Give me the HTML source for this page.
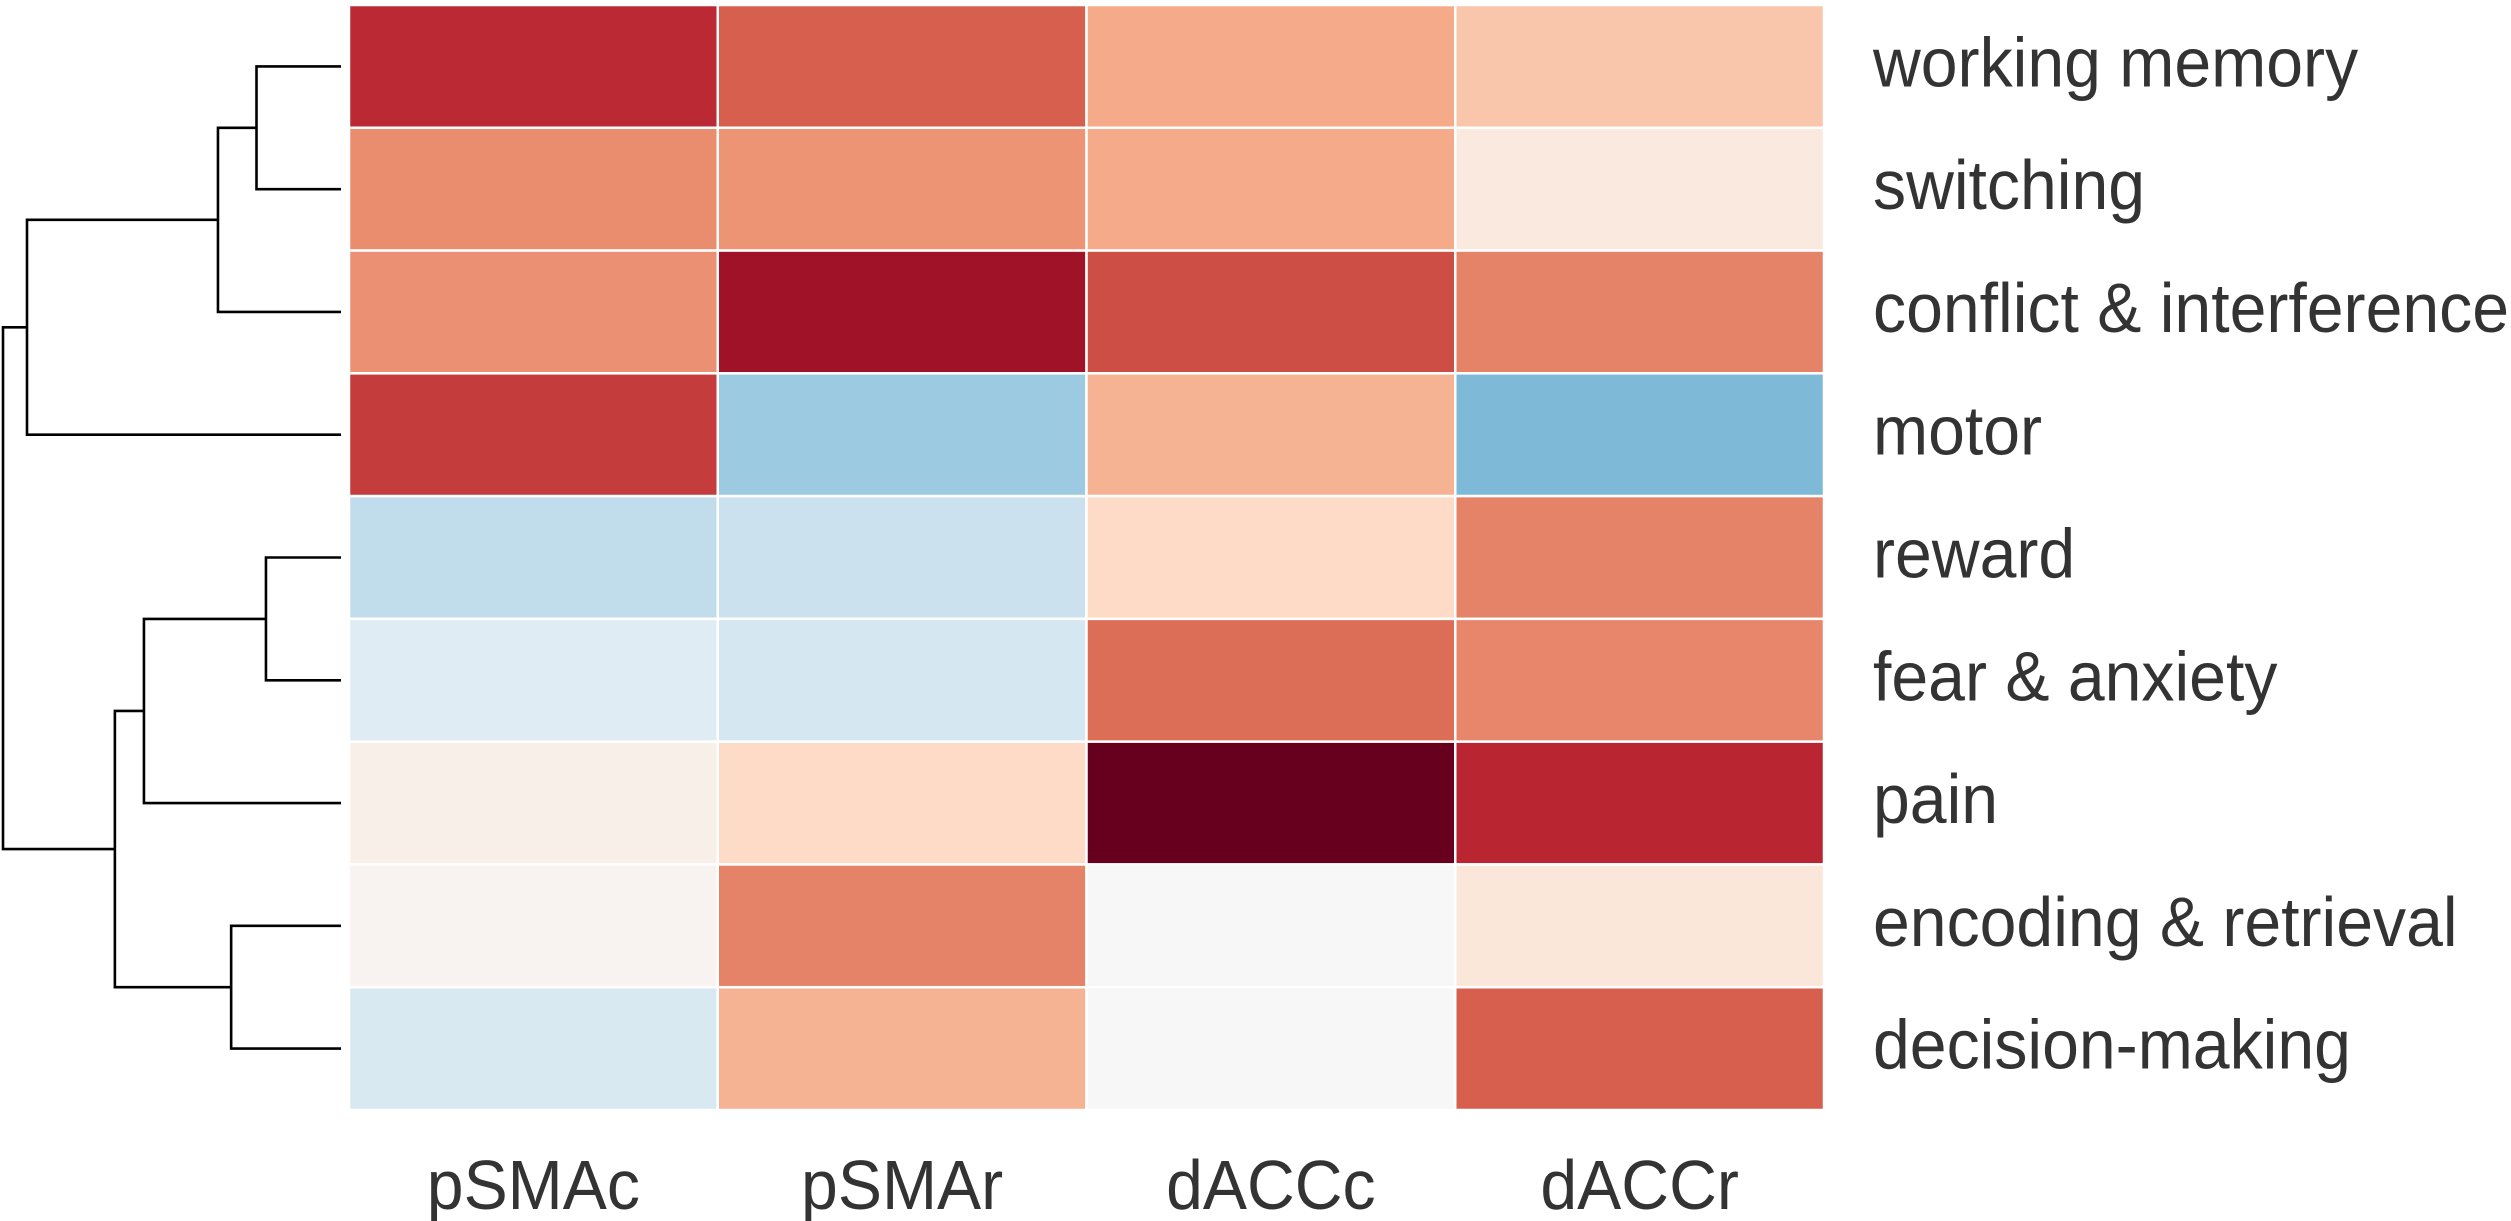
<!DOCTYPE html>
<html><head><meta charset="utf-8"><style>
html,body{margin:0;padding:0;background:#fff;}
svg{display:block;}
text{font-family:"Liberation Sans",sans-serif;fill:#333;}
</style></head><body>
<svg id="chart" width="2511" height="1221" viewBox="0 0 2511 1221" xmlns="http://www.w3.org/2000/svg">
<g id="dendro"></g>
<g id="cells"></g>
<g id="rowlabels"></g>
<g id="collabels"></g>
</svg>
<script>
const columns = ["pSMAc","pSMAr","dACCc","dACCr"];
const rows = ["working memory","switching","conflict & interference","motor","reward","fear & anxiety","pain","encoding & retrieval","decision-making"];
const values = [
 [0.75,0.6,0.38,0.28],
 [0.47,0.45,0.38,0.1],
 [0.46,0.85,0.65,0.5],
 [0.7,-0.37,0.35,-0.45],
 [-0.25,-0.22,0.2,0.5],
 [-0.12,-0.18,0.56,0.49],
 [0.06,0.2,1.0,0.76],
 [0.03,0.5,0.0,0.12],
 [-0.16,0.35,0.0,0.6]
];
// dendrogram merges: [childA, childB, height]; leaves 0..8, new nodes 9..
const merges = [[0,1,0.25],[9,2,0.364],[10,3,0.929],[4,5,0.222],[12,6,0.583],[7,8,0.325],[13,14,0.669],[11,15,1.0]];
const stops = ["#053061","#2166ac","#4393c3","#92c5de","#d1e5f0","#f7f7f7","#fddbc7","#f4a582","#d6604d","#b2182b","#67001f"];

const X0=349, X1=1824, Y0=5, Y1=1110;
const cw=(X1-X0)/columns.length, rh=(Y1-Y0)/rows.length;
function hex(h){return [1,3,5].map(i=>parseInt(h.substr(i,2),16));}
function cmap(v){
  let t=(Math.max(-1,Math.min(1,v))+1)/2*(stops.length-1);
  let i=Math.min(Math.floor(t),stops.length-2), f=t-i;
  let a=hex(stops[i]), b=hex(stops[i+1]);
  return "rgb("+a.map((x,k)=>Math.round(x+(b[k]-x)*f)).join(",")+")";
}
const NS="http://www.w3.org/2000/svg";
function mk(tag,attrs,parent){const e=document.createElementNS(NS,tag);for(const k in attrs)e.setAttribute(k,attrs[k]);parent.appendChild(e);return e;}
const cells=document.getElementById('cells');
values.forEach((row,r)=>row.forEach((v,c)=>{
  const e=mk('rect',{x:X0+c*cw,y:Y0+r*rh,width:cw,height:rh,fill:cmap(v),stroke:'#fff','stroke-width':2.5},cells);
  
  
}));
const rl=document.getElementById('rowlabels');
rows.forEach((name,r)=>{
  const y=Y0+(r+0.5)*rh+20;
  const t=mk('text',{x:0,y:0,'font-size':70,transform:`translate(1873,${y}) scale(0.945,1)`},rl);
  t.textContent=name;
  
  
});
const cl=document.getElementById('collabels');
columns.forEach((name,c)=>{
  const t=mk('text',{x:0,y:0,'font-size':70,'text-anchor':'middle',transform:`translate(${X0+(c+0.5)*cw},1209) scale(0.945,1)`},cl);
  t.textContent=name;
  
  
});
// dendrogram
const dg=document.getElementById('dendro');
const LEAFX=341, ROOTX=3;
function hx(h){return LEAFX-(LEAFX-ROOTX)*h;}
const nodes=rows.map((_,i)=>({y:Y0+(i+0.5)*rh,x:LEAFX}));
merges.forEach(m=>{
  const a=nodes[m[0]], b=nodes[m[1]], x=hx(m[2]);
  const p=mk('path',{d:`M${a.x},${a.y}H${x}V${b.y}H${b.x}`,fill:'none',stroke:'#000','stroke-width':2.6},dg);
  
  
  nodes.push({x:x,y:(a.y+b.y)/2});
});
</script>
</body></html>
